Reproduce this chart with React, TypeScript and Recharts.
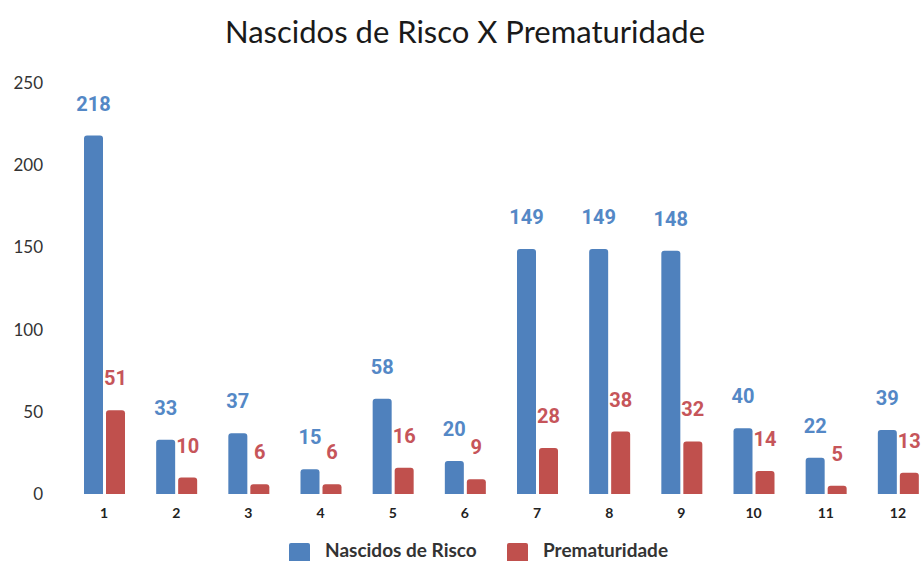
import { BarChart, Bar, XAxis, YAxis, LabelList } from 'recharts';

const meses = ['1', '2', '3', '4', '5', '6', '7', '8', '9', '10', '11', '12'];
const nascidosRisco = [218, 33, 37, 15, 58, 20, 149, 149, 148, 40, 22, 39];
const prematuridade = [51, 10, 6, 6, 16, 9, 28, 38, 32, 14, 5, 13];
const yTicks = [0, 50, 100, 150, 200, 250];

const BLUE = '#4F81BD';
const RED = '#C0504D';

const data = meses.map((m, i) => ({
  name: m,
  risco: nascidosRisco[i],
  prem: prematuridade[i],
}));

const LegendItem = ({ color, label, left }: { color: string; label: string; left: number }) => (
  <div style={{ position: 'absolute', left, top: 540, display: 'flex', alignItems: 'flex-start' }}>
    <div style={{ width: 21, height: 21, background: color, borderRadius: 2, marginRight: 15, marginTop: 3 }} />
    <span style={{ fontFamily: 'Lato', fontWeight: 700, fontSize: 19, color: '#333', lineHeight: '20px' }}>{label}</span>
  </div>
);

export default function App() {
  return (
    <div style={{ position: 'absolute', left: 0, top: 0, width: 923, height: 561, overflow: 'hidden', background: '#fff' }}>
      <div
        style={{
          position: 'absolute',
          left: 0,
          width: 930,
          top: 16,
          textAlign: 'center',
          fontFamily: 'Lato',
          fontSize: 31,
          lineHeight: '31px',
          color: '#1a1a1a',
        }}
      >
        Nascidos de Risco X Prematuridade
      </div>
      <BarChart
        width={934}
        height={561}
        data={data}
        margin={{ top: 83, right: 0, left: 0, bottom: 37 }}
        barSize={19}
        barGap={3}
      >
        <XAxis
          dataKey="name"
          axisLine={false}
          tickLine={false}
          interval={0}
          height={30}
          tickMargin={8}
          tick={{ fill: '#222', fontSize: 14, fontWeight: 700, fontFamily: 'Lato' }}
        />
        <YAxis
          domain={[0, 250]}
          ticks={yTicks}
          axisLine={false}
          tickLine={false}
          width={68}
          tickMargin={19}
          tick={{ fill: '#333', fontSize: 17, fontFamily: 'Lato' }}
        />
        <Bar dataKey="risco" fill={BLUE} radius={[3, 3, 0, 0]} isAnimationActive={false}>
          <LabelList
            dataKey="risco"
            position="top"
            offset={25}
            fill="#5488C6"
            style={{ fontSize: 20, fontWeight: 700, fontFamily: 'Roboto' }}
          />
        </Bar>
        <Bar dataKey="prem" fill={RED} radius={[3, 3, 0, 0]} isAnimationActive={false}>
          <LabelList
            dataKey="prem"
            position="top"
            offset={25}
            fill="#C6555A"
            style={{ fontSize: 20, fontWeight: 700, fontFamily: 'Roboto' }}
          />
        </Bar>
      </BarChart>
      <LegendItem color={BLUE} label="Nascidos de Risco" left={289} />
      <LegendItem color={RED} label="Prematuridade" left={507} />
    </div>
  );
}
